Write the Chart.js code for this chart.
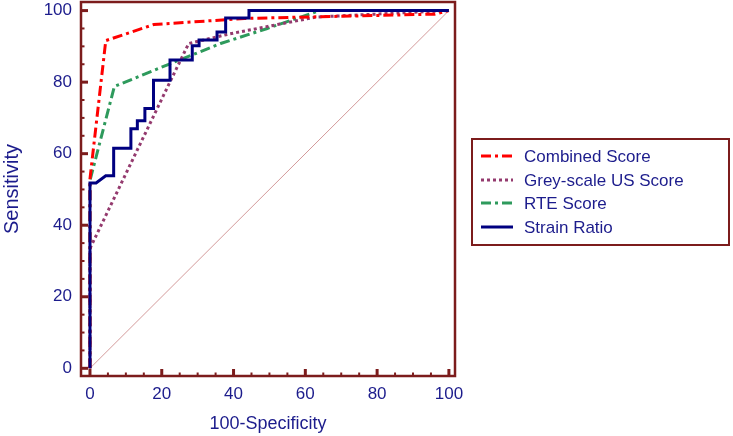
<!DOCTYPE html>
<html>
<head>
<meta charset="utf-8">
<script src="https://cdn.jsdelivr.net/npm/chart.js@4/dist/chart.umd.min.js"></script>
<style>
  html, body { margin: 0; padding: 0; background: #fff; }
  #wrap { width: 733px; height: 436px; }
</style>
</head>
<body>
<div id="wrap"><canvas id="c" width="733" height="436"></canvas></div>
<script>
// ---- data ----
const seriesNames = ["Combined Score", "Grey-scale US Score", "RTE Score", "Strain Ratio"];
const combinedX = [0, 0, 4.4, 17.8, 43, 96, 100];
const combinedY = [0, 53, 91.6, 96.1, 97.8, 99, 100];
const greyX = [0, 0, 22.5, 27.5, 39, 63, 100];
const greyY = [0, 33.5, 80.5, 90.8, 93.5, 98.2, 100];
const rteX = [0, 0, 6.8, 22.5, 36.4, 49.4, 64, 100];
const rteY = [0, 52.5, 78.8, 85.2, 90.8, 95, 100, 100];
const strainX = [0, 0, 1.7, 4.4, 6.6, 6.6, 11.4, 11.4, 13.2, 13.2, 15.3, 15.3, 17.7, 17.7, 22.3, 22.3, 28.5, 28.5, 30.4, 30.4, 35.4, 35.4, 37.8, 37.8, 44.3, 44.3, 100];
const strainY = [0, 51.8, 51.8, 53.8, 53.8, 61.5, 61.5, 67, 67, 69.2, 69.2, 72.6, 72.6, 80.5, 80.5, 86.2, 86.2, 90.2, 90.2, 91.8, 91.8, 94, 94, 97.9, 97.9, 100, 100];
const diagX = [0, 100];
const diagY = [0, 100];
const xTicks = [0, 20, 40, 60, 80, 100];
const yTicks = [0, 20, 40, 60, 80, 100];
const minorStep = 5;

const pts = (xs, ys) => xs.map((x, i) => ({ x: x, y: ys[i] }));

const MAROON = '#7c1c1c';
const NAVY = '#1c1c8c';
const FONT = "'Liberation Sans', Arial, sans-serif";

const framePlugin = {
  id: 'frame',
  afterDraw(chart) {
    const ctx = chart.ctx;
    const a = chart.chartArea;
    const xs = chart.scales.x, ys = chart.scales.y;
    ctx.save();
    ctx.strokeStyle = MAROON;
    // inward tick marks
    for (let v = 0; v <= 100; v += minorStep) {
      const major = xTicks.includes(v);
      ctx.lineWidth = major ? 3 : 2;
      const len = major ? 7 : 3.5;
      const px = xs.getPixelForValue(v);
      ctx.beginPath(); ctx.moveTo(px, a.bottom); ctx.lineTo(px, a.bottom - len); ctx.stroke();
    }
    for (let v = 0; v <= 100; v += minorStep) {
      const major = yTicks.includes(v);
      ctx.lineWidth = major ? 3 : 2;
      const len = major ? 7 : 3.5;
      const py = ys.getPixelForValue(v);
      ctx.beginPath(); ctx.moveTo(a.left, py); ctx.lineTo(a.left + len, py); ctx.stroke();
    }
    ctx.lineWidth = 2.5;
    ctx.strokeRect(a.left, a.top, a.right - a.left, a.bottom - a.top);

    // legend box
    const box = { l: 472, t: 139, r: 729, b: 245 };
    ctx.lineWidth = 2;
    ctx.strokeRect(box.l, box.t, box.r - box.l, box.b - box.t);
    const rows = [156, 180, 203, 227];
    ctx.font = "17px " + FONT;
    ctx.textBaseline = 'middle';
    ctx.textAlign = 'left';
    chart.data.datasets.filter(d => seriesNames.includes(d.label)).forEach((d, i) => {
      const y = rows[i];
      ctx.save();
      ctx.strokeStyle = d.borderColor;
      ctx.lineWidth = d.borderWidth;
      ctx.setLineDash(d.borderDash || []);
      ctx.beginPath(); ctx.moveTo(481, y); ctx.lineTo(513, y); ctx.stroke();
      ctx.restore();
      ctx.fillStyle = NAVY;
      ctx.fillText(d.label, 524, y + 1);
    });
    ctx.restore();
  }
};

new Chart(document.getElementById('c'), {
  type: 'scatter',
  data: {
    datasets: [
      { label: seriesNames[0], data: pts(combinedX, combinedY), showLine: true, borderColor: '#ff0000', borderWidth: 3, borderDash: [10, 4, 3, 4], pointRadius: 0, order: 1 },
      { label: seriesNames[1], data: pts(greyX, greyY), showLine: true, borderColor: '#943a6e', borderWidth: 3, borderDash: [3, 3], pointRadius: 0, order: 2 },
      { label: seriesNames[2], data: pts(rteX, rteY), showLine: true, borderColor: '#2e9a5c', borderWidth: 3, borderDash: [10, 4, 3, 4], pointRadius: 0, order: 3 },
      { label: seriesNames[3], data: pts(strainX, strainY), showLine: true, borderColor: '#000080', borderWidth: 3, pointRadius: 0, order: 0 },
      { label: 'diag', data: pts(diagX, diagY), showLine: true, borderColor: '#d39a9a', borderWidth: 1, pointRadius: 0, order: 4 }
    ]
  },
  options: {
    responsive: false,
    animation: false,
    devicePixelRatio: 1,
    layout: { padding: { top: 2, right: 278, left: 0, bottom: 0 } },
    plugins: { legend: { display: false }, tooltip: { enabled: false } },
    scales: {
      x: {
        type: 'linear', min: -2.5, max: 101.7,
        afterBuildTicks: s => { s.ticks = xTicks.map(v => ({ value: v })); },
        afterFit: s => { s.height = 60; s.paddingLeft = 0; s.paddingRight = 0; },
        grid: { display: false, drawTicks: false },
        border: { display: false },
        ticks: { color: NAVY, font: { size: 17, family: FONT }, padding: 8, maxRotation: 0, autoSkip: false },
        title: { display: true, text: '100-Specificity', color: NAVY, font: { size: 18, family: FONT }, padding: { top: 0, bottom: 1 } }
      },
      y: {
        type: 'linear', min: -2.15, max: 102.4,
        afterBuildTicks: s => { s.ticks = yTicks.map(v => ({ value: v })); },
        afterFit: s => { s.width = 81; s.paddingTop = 0; s.paddingBottom = 0; },
        grid: { display: false, drawTicks: false },
        border: { display: false },
        ticks: { color: NAVY, font: { size: 17, family: FONT }, padding: 9, autoSkip: false },
        title: { display: true, text: 'Sensitivity', color: NAVY, font: { size: 20, family: FONT }, padding: { top: 0, bottom: 0 } }
      }
    }
  },
  plugins: [framePlugin]
});
</script>
</body>
</html>
